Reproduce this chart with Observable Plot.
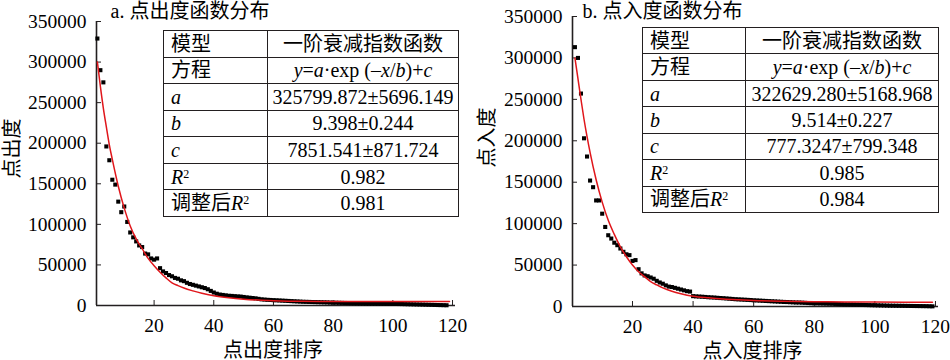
<!DOCTYPE html>
<html>
<head>
<meta charset="utf-8">
<script src="https://cdn.jsdelivr.net/npm/d3@7"></script>
<script src="https://cdn.jsdelivr.net/npm/@observablehq/plot@0.6"></script>
<style>
  body { margin: 0; background: #fff; }
  #wrap { display: flex; width: 950px; height: 360px; }
  .panel { position: relative; width: 475px; height: 360px; }
  .panel svg { position: absolute; left: 0; top: 0; }
  table.fit {
    position: absolute;
    border-collapse: collapse;
    font-family: "Liberation Serif", "Noto Sans CJK SC", serif;
    font-size: 20px;
    color: #000;
    background: #fff;
    table-layout: fixed;
  }
  table.fit td {
    border: 1.6px solid #231f20;
    padding: 0;
    line-height: 24px;
    white-space: nowrap;
    overflow: hidden;
  }
  table.fit td.k { text-align: left; padding-left: 7px; }
  table.fit td.v { text-align: center; }
  sup.s { font-size: 0.6em; vertical-align: 0.5em; line-height: 0; font-style: normal; }
</style>
</head>
<body>
<div id="wrap"></div>
<script>
// ---------- data ----------
const outTitle = "a. 点出度函数分布";
const inTitle = "b. 点入度函数分布";
const outYLabel = "点出度";
const inYLabel = "点入度";
const outXLabel = "点出度排序";
const inXLabel = "点入度排序";

const xTicks = [20, 40, 60, 80, 100, 120];
const yTicks = [0, 50000, 100000, 150000, 200000, 250000, 300000, 350000];

// point out-degree, ranked 1..n
const outDegree = [
  329000, 290000, 275000, 196000, 179000, 155000, 149000, 128000, 115000, 122000,
  103000, 90000, 84000, 79000, 74000, 72000, 64000, 63000, 58000, 56500,
  58000, 46000, 42000, 40000, 37500, 36000, 34000, 33000, 31000, 30000,
  28000, 26500, 25500, 24500, 23500, 22500, 21500, 20000, 18000, 16000,
  14500, 13500, 13000, 12500, 12000, 11800, 11500, 11200, 11000, 10500,
  10000, 9600, 9200, 8800, 8200, 7600, 7300, 7000, 6800, 6600,
  6400, 6200, 6000, 5800, 5600, 5400, 5200, 5000, 4800, 4600,
  4500, 4400, 4300, 4200, 4100, 4000, 3900, 3800, 3600, 3500,
  3400, 3300, 3200, 3100, 3000, 2900, 2800, 2700, 2600, 2500,
  2400, 2350, 2300, 2250, 2200, 2150, 2100, 2050, 2000, 1950,
  1900, 1850, 1800, 1700, 1600, 1500, 1400, 1300, 1200, 1100,
  1000, 900, 800, 700, 600, 500, 400, 300
];

// point in-degree, ranked 1..n
const inDegree = [
  313000, 300000, 257000, 203000, 181000, 152000, 144000, 128000, 128000, 112000,
  96000, 86000, 82000, 77000, 74000, 70000, 66000, 63000, 62000, 55000,
  56000, 45000, 40000, 37500, 36500, 35000, 33500, 31000, 29000, 27500,
  25500, 24000, 23500, 22500, 21500, 20500, 19500, 18500, 18000, 12500,
  12200, 12000, 11800, 11500, 11200, 11000, 10800, 10500, 10200, 10000,
  9700, 9400, 9100, 8800, 8600, 8400, 8200, 8000, 7800, 7500,
  7300, 7100, 6900, 6700, 6500, 6300, 6100, 5900, 5700, 5500,
  5400, 5200, 5000, 4800, 4800, 4600, 4400, 4200, 4000, 3900,
  3800, 3700, 3600, 3500, 3400, 3300, 3100, 2900, 2700, 2500,
  2400, 2300, 2200, 2100, 2000, 1900, 1800, 1700, 1600, 1500,
  1400, 1300, 1200, 1100, 1000, 950, 900, 850, 800, 750,
  700, 650, 600, 550, 500, 450, 400, 300, 200
];

// fitted curves
const fitX = [1, 2, 3, 4, 5, 6, 8, 10, 12, 14, 16, 18, 20, 22, 24, 26, 28, 30, 33, 36, 40, 45, 50, 55, 60, 70, 80, 90, 100, 110, 119];
const outFitY = [300000, 270000, 243000, 220000, 198000, 180000, 147000, 120000, 98000, 82000, 70000, 58000, 49000, 41000, 34000, 28000, 24500, 21500, 18000, 15000, 12000, 9500, 7800, 6700, 6000, 5200, 5000, 4900, 4900, 4900, 4900];
const inFitY = [300000, 275000, 250000, 226000, 205000, 186000, 153000, 126000, 104000, 87000, 72000, 60000, 50000, 42000, 36000, 30000, 26000, 22500, 18500, 15500, 12500, 10500, 9000, 8000, 7200, 6300, 5800, 5500, 5300, 5200, 5100];

// table
const rowKeys = ["模型", "方程", "<i>a</i>", "<i>b</i>", "<i>c</i>", "<i>R</i><sup class='s'>2</sup>", "调整后<i>R</i><sup class='s'>2</sup>"];
const equation = "<i>y</i>=<i>a</i>·exp (–<i>x</i>/<i>b</i>)+<i>c</i>";
const outFitRows = ["一阶衰减指数函数", equation, "325799.872±5696.149", "9.398±0.244", "7851.541±871.724", "0.982", "0.981"];
const inFitRows = ["一阶衰减指数函数", equation, "322629.280±5168.968", "9.514±0.227", "777.3247±799.348", "0.985", "0.984"];

// ---------- drawing ----------
const FONT = '"Liberation Serif", "Noto Sans CJK SC", serif';
const INK = "#231f20";

function panel(cfg) {
  const pts = cfg.values.map((v, i) => ({rank: i + 1, value: v}));
  const fit = cfg.fitX.map((x, i) => ({rank: x, value: cfg.fitY[i]}));
  const chart = Plot.plot({
    width: 475,
    height: 360,
    marginLeft: cfg.m[0],
    marginTop: cfg.m[1],
    marginRight: cfg.m[2],
    marginBottom: cfg.m[3],
    style: {fontFamily: FONT, fontSize: "19.5px", color: "#000", background: "transparent", overflow: "visible"},
    x: {domain: cfg.xDomain, axis: null},
    y: {domain: [0, 350000], axis: null},
    marks: [
      Plot.axisY(yTicks, {tickSize: -5, tickPadding: 15, tickFormat: d => String(d), stroke: INK, fill: "#000", label: null}),
      Plot.axisX(xTicks, {tickSize: -5, tickPadding: 18, tickFormat: d => String(d), stroke: INK, fill: "#000", label: null}),
      Plot.ruleY([0], {stroke: INK, strokeWidth: 1.6}),
      Plot.ruleX([cfg.xDomain[0]], {stroke: INK, strokeWidth: 1.6}),
      Plot.dot(pts, {x: "rank", y: "value", symbol: "square", r: 2.3, fill: "#000", stroke: null}),
      Plot.line(fit, {x: "rank", y: "value", curve: "monotone-x", stroke: "#e0161b", strokeWidth: 1.5}),
      Plot.text([cfg.title], {frameAnchor: "top-left", dx: cfg.titleDx, dy: cfg.titleDy, textAnchor: "start", lineAnchor: "middle", fontSize: 20, fill: "#000"}),
      Plot.text([cfg.yLabel], {frameAnchor: "left", dx: -(cfg.m[0] - 12), dy: cfg.yLabelDy, rotate: -90, textAnchor: "middle", lineAnchor: "middle", fontSize: 20, fill: "#000"}),
      Plot.text([cfg.xLabel], {frameAnchor: "bottom", dx: -3, dy: 45, textAnchor: "middle", lineAnchor: "middle", fontSize: 20, fill: "#000"})
    ]
  });
  const div = document.createElement("div");
  div.className = "panel";
  div.appendChild(chart);

  const t = document.createElement("table");
  t.className = "fit";
  t.style.left = cfg.table[0] + "px";
  t.style.top = cfg.table[1] + "px";
  t.style.width = cfg.table[2] + "px";
  t.style.height = cfg.table[3] + "px";
  const cg = document.createElement("colgroup");
  cg.innerHTML = `<col style="width:${cfg.table[4]}px"><col>`;
  t.appendChild(cg);
  const tb = document.createElement("tbody");
  rowKeys.forEach((k, i) => {
    const tr = document.createElement("tr");
    tr.innerHTML = `<td class="k">${k}</td><td class="v">${cfg.rows[i]}</td>`;
    tb.appendChild(tr);
  });
  t.appendChild(tb);
  div.appendChild(t);
  return div;
}

const wrap = document.getElementById("wrap");
wrap.appendChild(panel({
  values: outDegree, fitX: fitX, fitY: outFitY, rows: outFitRows,
  title: outTitle, yLabel: outYLabel, xLabel: outXLabel,
  m: [96, 21, 20, 55], xDomain: [0.7, 121],
  titleDx: 14, titleDy: -10, yLabelDy: -15,
  table: [163, 30, 296, 187, 104]
}));
wrap.appendChild(panel({
  values: inDegree, fitX: fitX, fitY: inFitY, rows: inFitRows,
  title: inTitle, yLabel: inYLabel, xLabel: inXLabel,
  m: [97, 16, 12, 54], xDomain: [0.2, 121],
  titleDx: 10, titleDy: -5, yLabelDy: -24,
  table: [167, 27, 297, 186, 103]
}));
</script>
</body>
</html>
